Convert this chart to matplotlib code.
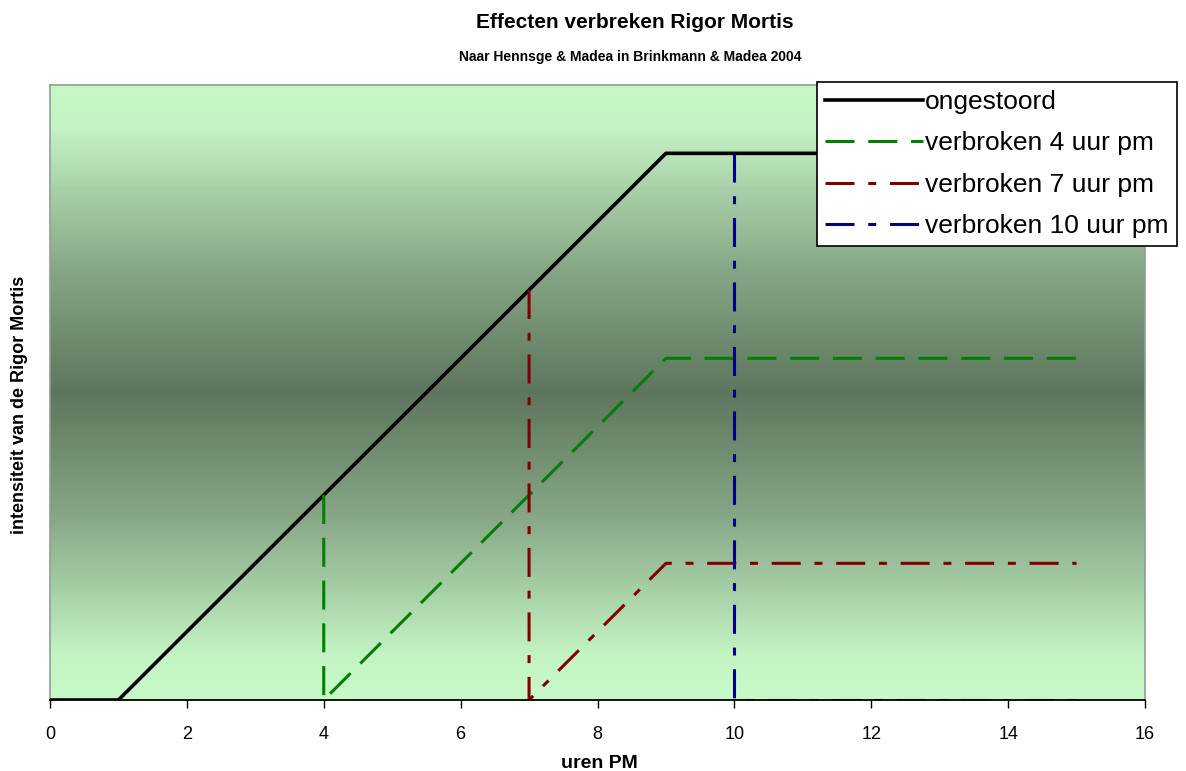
import numpy as np
import matplotlib.pyplot as plt
from matplotlib.colors import LinearSegmentedColormap

plt.rcParams['font.family'] = ["Liberation Sans", "DejaVu Sans"]

# Data (hours post mortem vs. intensity, arbitrary units)
x_intact = [0, 1, 9, 15]
y_intact = [0, 0, 8, 8]
x_4h = [4, 4, 9, 15]
y_4h = [3, 0, 5, 5]
x_7h = [7, 7, 9, 15]
y_7h = [6, 0, 2, 2]
x_10h = [10, 10, 15]
y_10h = [8, 0, 0]
labels = ["ongestoord", "verbroken 4 uur pm", "verbroken 7 uur pm", "verbroken 10 uur pm"]
xticks = [0, 2, 4, 6, 8, 10, 12, 14, 16]

fig = plt.figure(figsize=(11.86, 7.71), dpi=100)
ax = fig.add_axes([50 / 1186, 71 / 771, 1095 / 1186, 615 / 771])

# Excel-style vertical gradient background
grad = LinearSegmentedColormap.from_list("bg", [
    (0.00, "#c8f8c8"),
    (0.07, "#c4f2c4"),
    (0.30, "#86a686"),
    (0.50, "#5e765e"),
    (0.70, "#86a686"),
    (0.93, "#c4f4c4"),
    (1.00, "#c8fac8"),
])
ax.imshow(np.linspace(0, 1, 256).reshape(-1, 1), cmap=grad, aspect="auto",
          extent=[0, 1, 0, 1], transform=ax.transAxes, zorder=0)

lw = 2.2
ax.plot(x_intact, y_intact, color="black", linewidth=2.6, label=labels[0], zorder=3)
ax.plot(x_4h, y_4h, color="#008000", linewidth=lw, dashes=(9.5, 4.5), label=labels[1], zorder=3)
ax.plot(x_7h, y_7h, color="#800000", linewidth=lw, dashes=(9.5, 4.5, 2.6, 4.5), label=labels[2], zorder=3)
ax.plot(x_10h, y_10h, color="#000080", linewidth=lw, dashes=(9.5, 4.5, 2.6, 4.5), label=labels[3], zorder=3)

ax.set_xlim(0, 16)
ax.set_ylim(0, 9)
ax.set_xticks(xticks)
ax.set_yticks([])
ax.tick_params(axis="x", direction="out", length=6, width=1, labelsize=13, pad=13)
for s in ["left", "top", "right"]:
    ax.spines[s].set_color("#8fa08f")
    ax.spines[s].set_linewidth(1.2)
ax.spines["bottom"].set_color("black")
ax.spines["bottom"].set_linewidth(1.3)
ax.spines["bottom"].set_zorder(4)

fig.text(599 / 1186, 8 / 771, "uren PM", fontsize=14, fontweight="bold",
         ha="center", va="center")
fig.text(20 / 1186, 1 - 405 / 771, "intensiteit van de Rigor Mortis", rotation=90,
         fontsize=13, fontweight="bold", ha="center", va="center")

fig.text(635 / 1186, 1 - 22 / 771, "Effecten verbreken Rigor Mortis", fontsize=15,
         fontweight="bold", ha="center", va="center")
fig.text(630 / 1186, 1 - 57 / 771, "Naar Hennsge & Madea in Brinkmann & Madea 2004",
         fontsize=10, fontweight="bold", ha="center", va="center")

leg = fig.legend(loc="upper left", bbox_to_anchor=(817 / 1186, 1 - 82 / 771),
                 fontsize=19, frameon=True, fancybox=False, framealpha=1,
                 edgecolor="black", handlelength=3.7, handletextpad=0.1,
                 labelspacing=0.66, borderpad=0.3, borderaxespad=0)
leg.get_frame().set_linewidth(1.2)

fig.savefig("out.png", dpi=100)
